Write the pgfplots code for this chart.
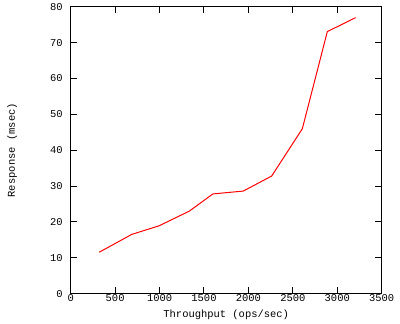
\documentclass[border=0pt]{standalone}
\usepackage{fontspec}
\setmainfont{Liberation Mono}
\usepackage{pgfplots}
\pgfplotsset{compat=1.18}
\begin{document}
\begin{tikzpicture}[x=1bp,y=1bp]
\path (0,0) rectangle (400,320);
\begin{axis}[
  at={(70.7bp,28.3bp)}, anchor=south west,
  scale only axis, width=311bp, height=286.7bp,
  xmin=0, xmax=3500, ymin=0, ymax=80,
  xtick={0,500,...,3500}, ytick={0,10,...,80},
  tick align=inside, major tick length=6.5bp,
  xtick pos=both, ytick pos=both,
  axis line style={line width=1bp},
  tick style={line width=1bp, black},
  /pgf/number format/assume math mode=true,
  /pgf/number format/set thousands separator={},
  tick label style={font=\fontsize{10.5}{12}\selectfont},
  label style={font=\fontsize{10.5}{12}\selectfont},
  xticklabel style={anchor=center, yshift=-4bp},
  yticklabel style={anchor=east, xshift=-4.5bp},
  xlabel={Throughput (ops/sec)},
  ylabel={Response (msec)},
  xlabel style={at={(rel axis cs:0.5,0)}, anchor=center, yshift=-21.5bp},
  ylabel style={at={(rel axis cs:0,0.5)}, anchor=center, rotate=0, xshift=0bp, yshift=58.5bp},
]
\addplot[red, line width=1bp] coordinates {
(322,11.55) (686,16.5) (994,18.9) (1335,23.0) (1600,27.8) (1942,28.6) (2262,32.8) (2607,46.0) (2888,73.1) (3207,77.0)
};
\end{axis}
\end{tikzpicture}
\end{document}
